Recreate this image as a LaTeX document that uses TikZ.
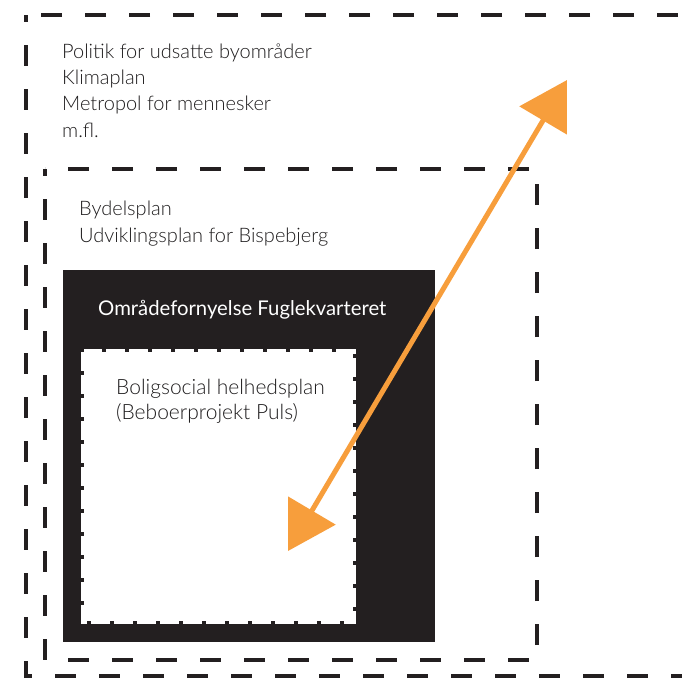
\documentclass[tikz,border=0pt]{standalone}
\usepackage{fontspec}
\setmainfont{Lato}[UprightFont={* Light}, BoldFont={*}]
\usetikzlibrary{arrows.meta}
\definecolor{darkfill}{RGB}{35,31,32}
\definecolor{orangearrow}{RGB}{247,158,60}
\definecolor{txt}{RGB}{30,28,29}
\begin{document}
\begin{tikzpicture}[x=1pt,y=-1pt,
  bigdash/.style={draw=darkfill,line width=4pt,dash pattern=on 21pt off 23pt,dash phase=14pt},
  blackbox/.style={fill=darkfill},
  whitebox/.style={fill=white,draw=white,line width=6pt,dash pattern=on 19pt off 4pt},
  lighttext/.style={anchor=base west,inner sep=0pt,text=txt,font=\fontsize{20}{26}\selectfont},
  innertext/.style={anchor=base west,inner sep=0pt,text=txt,font=\fontsize{21}{26}\selectfont},
  headtext/.style={anchor=base west,inner sep=0pt,text=white,font=\fontsize{20.3}{24}\selectfont\bfseries},
  bigarrow/.style={draw=orangearrow,line width=5pt,
    {Triangle[length=47pt,width=54pt]}-{Triangle[length=47pt,width=54pt]}}]
\useasboundingbox (0,0) rectangle (682,678);
% outer dashed frame (extends past the right edge)
\draw[bigdash] (26,15) -- (26,676) -- (740,676) -- (740,15) -- cycle;
% middle dashed frame
\draw[bigdash] (45,169) -- (45,660) -- (537,660) -- (537,169) -- cycle;
% black box
\fill[blackbox] (63,270) rectangle (435,642);
% inner white box with dashed white border
\path[whitebox] (84,352) rectangle (353,621);
% texts
\node[lighttext] (p1) at (62,58) {Politik for udsatte byområder};
\node[lighttext] (p2) at (62,84) {Klimaplan};
\node[lighttext] (p3) at (62,110) {Metropol for mennesker};
\node[lighttext] (p4) at (62,137) {m.fl.};
\node[lighttext] (b1) at (79,215) {Bydelsplan};
\node[lighttext] (b2) at (79,242) {Udviklingsplan for Bispebjerg};
\node[headtext] (h1) at (98,315) {Områdefornyelse Fuglekvarteret};
\node[innertext] (s1) at (116,394) {Boligsocial helhedsplan};
\node[innertext] (s2) at (116,419) {(Beboerprojekt Puls)};
% arrow
\coordinate (alow) at (288,551);
\coordinate (ahigh) at (567,80);
\draw[bigarrow] (alow) -- (ahigh);
\end{tikzpicture}
\end{document}
